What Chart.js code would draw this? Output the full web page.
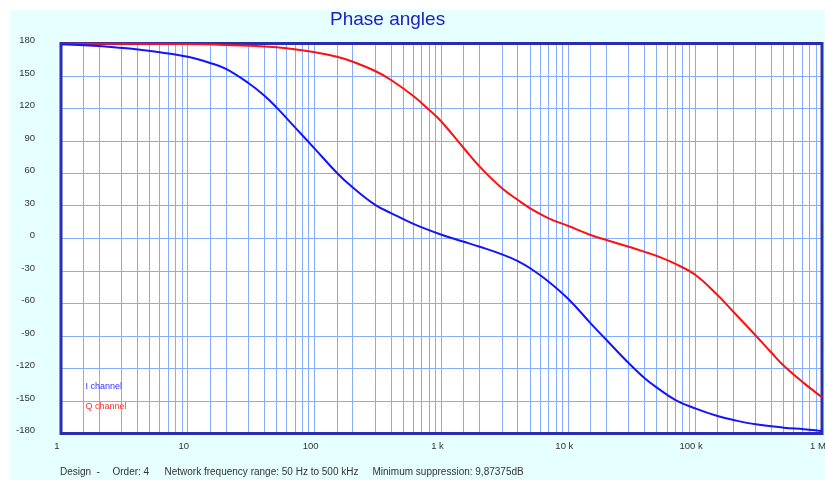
<!DOCTYPE html>
<html>
<head>
<meta charset="utf-8">
<title>Phase angles</title>
<script src="https://cdn.jsdelivr.net/npm/chart.js@4.4.1/dist/chart.umd.min.js"></script>
<style>
  html, body { margin: 0; padding: 0; background: #fff; overflow: hidden; }
  #wrap { position: absolute; left: 10px; top: 10px; width: 830px; height: 470px; background: #e6ffff; }
</style>
</head>
<body>
<div id="wrap"><canvas id="phase-chart" width="830" height="470"></canvas></div>
<script>
// Frequenze (Hz) e fasi (gradi)
const freqI = [1, 1.8, 3.3, 6, 10, 15, 20, 30, 40, 50, 70, 100, 150, 200, 300, 400, 600, 1000, 1500, 2000,
  3000, 4000, 5000, 7000, 10000, 15000, 20000, 30000, 40000, 50000, 70000, 100000, 150000, 200000,
  300000, 500000, 720000, 1000000];
const phaseI = [179.3, 178, 175.6, 171.9, 167.8, 162, 156.5, 143.5, 132, 121, 102.6, 83, 60.5, 47,
  31, 23.5, 13.5, 3.5, -3, -7.6, -14.6, -20.8, -27.5, -39.9, -55.9, -78.3, -93.7, -115.2, -129, -137.7,
  -149.1, -156.8, -163.9, -167.5, -171.5, -174.6, -176, -177.7];

const freqQ = [1, 10, 20, 50, 100, 150, 200, 300, 400, 600, 800, 1000, 1500, 2000, 3000, 4000, 5000, 7000,
  10000, 15000, 20000, 30000, 40000, 50000, 70000, 100000, 150000, 200000, 300000, 400000,
  500000, 720000, 1000000];
const phaseQ = [179.8, 179.5, 178.6, 176.5, 172, 167.8, 163.2, 154.6, 146.3, 131.5, 118.6, 107.8, 83.3, 66.3,
  46.3, 35.5, 27.9, 18.6, 11.5, 3.2, -1.4, -7.6, -12.3, -16.2, -23.5, -33.5, -52.2, -67.6, -89.5,
  -105.5, -117.5, -133.5, -146.6];

// Etichette asse x e griglia logaritmica
const xMajorValues = [1, 10, 100, 1000, 10000, 100000, 1000000];
const xTickLabels = ['1', '10', '100', '1 k', '10 k', '100 k', '1 M'];
const gridSteps = [1, 1.5, 2, 3, 4, 5, 6, 7, 8, 9];
const yTicks = [-180, -150, -120, -90, -60, -30, 0, 30, 60, 90, 120, 150, 180];

const footerParts = [
  { x: 50, text: 'Design' },
  { x: 86.5, text: '-' },
  { x: 102.5, text: 'Order: 4' },
  { x: 154.5, text: 'Network frequency range: 50 Hz to 500 kHz' },
  { x: 362.5, text: 'Minimum suppression: 9,87375dB' }
];

const FONT = '"Liberation Sans", Arial, sans-serif';
const GRID_COLOR = '#86acff';

// Valori della griglia verticale: 1, 1.5, 2 ... 9 per ogni decade
const xGridValues = [];
xMajorValues.slice(0, -1).forEach(dec => {
  gridSteps.forEach(s => xGridValues.push(Math.round(dec * s * 10) / 10));
});
xGridValues.push(1000000);

function toPoints(xs, ys) {
  return xs.map((x, i) => ({ x: x, y: ys[i] }));
}

// Sfondo bianco, bordo e testi
const framePlugin = {
  id: 'frame',
  beforeDraw(chart) {
    const { ctx, chartArea: a } = chart;
    ctx.save();
    ctx.fillStyle = '#ffffff';
    ctx.fillRect(a.left, a.top, a.right - a.left, a.bottom - a.top);
    ctx.restore();
  },
  beforeDatasetsDraw(chart) {
    const { ctx, chartArea: a } = chart;
    ctx.save();
    ctx.strokeStyle = '#2c2cb0';
    ctx.lineWidth = 3;
    ctx.strokeRect(a.left, a.top, a.right - a.left, a.bottom - a.top);
    ctx.restore();
  },
  afterDraw(chart) {
    const { ctx } = chart;
    ctx.save();
    // titolo
    ctx.font = '19px ' + FONT;
    ctx.fillStyle = '#2020c0';
    ctx.textBaseline = 'alphabetic';
    ctx.textAlign = 'left';
    ctx.fillText('Phase angles', 320, 15);
    // legenda dentro il grafico
    ctx.font = '9px ' + FONT;
    ctx.textBaseline = 'middle';
    ctx.fillStyle = '#3535ff';
    ctx.fillText('I channel', 75.5, 377);
    ctx.fillStyle = '#ff3535';
    ctx.fillText('Q channel', 75.5, 396.5);
    // riga in basso
    ctx.font = '10px ' + FONT;
    ctx.fillStyle = '#333333';
    ctx.textBaseline = 'alphabetic';
    footerParts.forEach(p => ctx.fillText(p.text, p.x, 465));
    ctx.restore();
  }
};

const ctx = document.getElementById('phase-chart').getContext('2d');
const chart = new Chart(ctx, {
  type: 'line',
  data: {
    datasets: [
      {
        label: 'I channel',
        data: toPoints(freqI, phaseI),
        borderColor: '#1414ff',
        borderWidth: 2,
        pointRadius: 0,
        tension: 0.4,
        clip: 3
      },
      {
        label: 'Q channel',
        data: toPoints(freqQ, phaseQ),
        borderColor: '#ff1010',
        borderWidth: 2,
        pointRadius: 0,
        tension: 0.4,
        clip: 3
      }
    ]
  },
  options: {
    responsive: false,
    animation: false,
    layout: {
      autoPadding: false,
      padding: { top: 33.5, right: 18, bottom: 0, left: 0 }
    },
    plugins: {
      legend: { display: false },
      tooltip: { enabled: false }
    },
    scales: {
      x: {
        type: 'logarithmic',
        min: 1,
        max: 1000000,
        afterBuildTicks: scale => {
          scale.ticks = xGridValues.map(v => ({ value: v }));
        },
        afterFit: scale => { scale.height = 46.5; },
        grid: { color: GRID_COLOR, lineWidth: 1, drawTicks: false },
        border: { display: false },
        ticks: {
          autoSkip: false,
          maxRotation: 0,
          padding: 7,
          labelOffset: -4,
          color: '#333333',
          font: { family: FONT, size: 9.5 },
          callback: value => {
            const idx = xMajorValues.indexOf(value);
            return idx >= 0 ? xTickLabels[idx] : '';
          }
        }
      },
      y: {
        min: -180,
        max: 180,
        afterBuildTicks: scale => {
          scale.ticks = yTicks.map(v => ({ value: v }));
        },
        afterFit: scale => { scale.width = 51; },
        grid: { color: GRID_COLOR, lineWidth: 1, drawTicks: false },
        border: { display: false },
        ticks: {
          padding: 26,
          labelOffset: -3,
          color: '#333333',
          font: { family: FONT, size: 9.5 }
        }
      }
    }
  },
  plugins: [framePlugin]
});
</script>
</body>
</html>
